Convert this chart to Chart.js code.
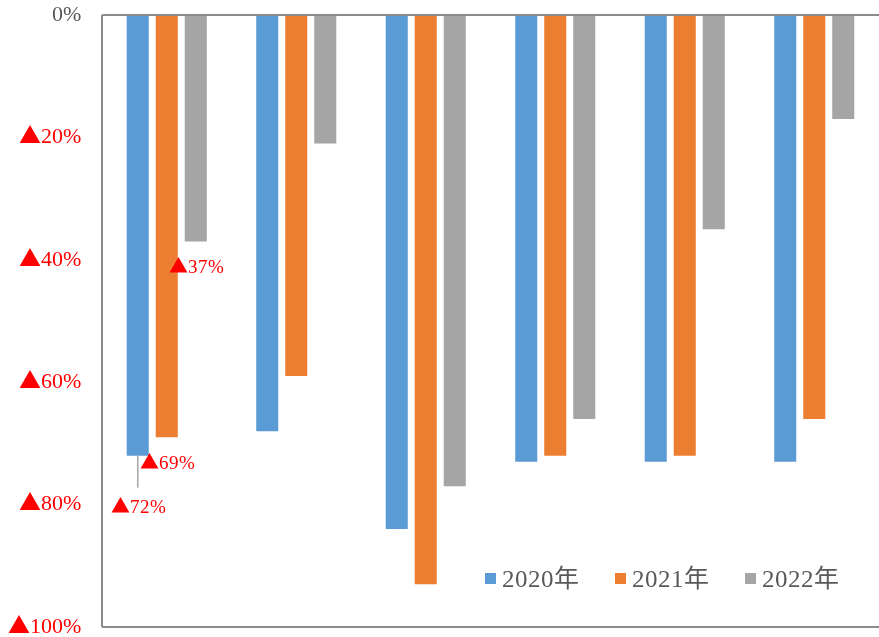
<!DOCTYPE html>
<html lang="ja">
<head>
  <meta charset="UTF-8">
  <title>減少率</title>
  <script src="https://cdn.jsdelivr.net/npm/chart.js"></script>
  <style>
    /* serif digits, full-width triangle from the CJK face */
    @font-face { font-family: 'MixSerif'; src: local('Noto Sans CJK JP'), local('NotoSansCJKjp-Regular'); unicode-range: U+25B2, U+5E74; }
    @font-face { font-family: 'MixSerif'; src: local('Liberation Serif'), local('LiberationSerif'); unicode-range: U+0000-00FF; }
    html, body { margin: 0; padding: 0; background: #fff; }
    #wrap { width: 879px; height: 637px; }
  </style>
</head>
<body>
  <div id="wrap"><canvas id="myChart"></canvas></div>

  <script>
    const categories = ['1', '2', '3', '4', '5', '6'];
    const seriesNames = ['2020年', '2021年', '2022年'];
    const values2020 = [-72, -68, -84, -73, -73, -73];
    const values2021 = [-69, -59, -93, -72, -72, -66];
    const values2022 = [-37, -21, -77, -66, -35, -17];
    const tickValues = [0, -20, -40, -60, -80, -100];
    const colors = ['#5B9BD5', '#ED7D31', '#A5A5A5'];

    const serif = "MixSerif, 'Liberation Serif', 'Noto Sans CJK JP', serif";

    function fmt(v) {
      return v === 0 ? '0%' : '▲' + Math.abs(v) + '%';
    }

    // labels only on the first group; blue one hangs lower with a leader line
    const labelSpots = [
      { ds: 0, i: 0, dy: 52, leader: 32 },
      { ds: 1, i: 0, dy: 27 },
      { ds: 2, i: 0, dy: 27 }
    ];

    const frame = {
      id: 'frame',
      afterDatasetsDraw(chart) {
        const { ctx, chartArea: a, scales } = chart;
        const y0 = scales.y.getPixelForValue(0);
        ctx.save();
        ctx.strokeStyle = '#8C8C8C';
        ctx.lineWidth = 2;
        ctx.beginPath();
        ctx.moveTo(a.left, y0); ctx.lineTo(a.right, y0);
        ctx.moveTo(a.left, a.top); ctx.lineTo(a.left, a.bottom);
        ctx.moveTo(a.left, a.bottom); ctx.lineTo(a.right, a.bottom);
        ctx.stroke();

        // data labels
        ctx.font = '19px ' + serif;
        ctx.textAlign = 'center';
        ctx.textBaseline = 'middle';
        labelSpots.forEach(s => {
          const bar = chart.getDatasetMeta(s.ds).data[s.i];
          const v = chart.data.datasets[s.ds].data[s.i];
          if (s.leader) {
            ctx.strokeStyle = '#A6A6A6';
            ctx.lineWidth = 1.5;
            ctx.beginPath();
            ctx.moveTo(bar.x, bar.y);
            ctx.lineTo(bar.x, bar.y + s.leader);
            ctx.stroke();
          }
          ctx.fillStyle = '#FF0000';
          ctx.fillText(fmt(v), bar.x + 1, bar.y + s.dy);
        });

        // legend inside the plot, lower right
        ctx.font = '25px ' + serif;
        ctx.textAlign = 'left';
        let x = 485;
        const ly = 579;
        chart.data.datasets.forEach(d => {
          ctx.fillStyle = d.backgroundColor;
          ctx.fillRect(x, ly - 6, 11, 11);
          ctx.fillStyle = '#595959';
          ctx.fillText(d.label, x + 17, ly + 1);
          x += 130;
        });
        ctx.restore();
      }
    };

    function draw() {
      new Chart(document.getElementById('myChart'), {
        type: 'bar',
        data: {
          labels: categories,
          datasets: [
            { label: seriesNames[0], data: values2020, backgroundColor: colors[0] },
            { label: seriesNames[1], data: values2021, backgroundColor: colors[1] },
            { label: seriesNames[2], data: values2022, backgroundColor: colors[2] }
          ]
        },
        options: {
          responsive: true,
          maintainAspectRatio: false,
          animation: false,
          layout: { padding: { top: 15, bottom: 10, left: 0, right: -3 } },
          datasets: {
            bar: { categoryPercentage: 0.672, barPercentage: 0.76 }
          },
          plugins: {
            legend: { display: false },
            tooltip: { enabled: false }
          },
          scales: {
            x: { display: false },
            y: {
              min: -100,
              max: 0,
              grid: { display: false, drawTicks: false },
              border: { display: false },
              afterBuildTicks(scale) {
                scale.ticks = tickValues.map(v => ({ value: v }));
              },
              afterFit(scale) {
                scale.width = 102;
                scale.paddingTop = 0;
                scale.paddingBottom = 0;
              },
              ticks: {
                padding: 21,
                font: { family: serif, size: 22 },
                color: c => (c.tick && c.tick.value === 0 ? '#595959' : '#FF0000'),
                callback: v => fmt(v)
              }
            }
          }
        },
        plugins: [frame]
      });
    }

    Promise.all([
      document.fonts.load('22px MixSerif', '▲0%'),
      document.fonts.load('25px MixSerif', '2020年')
    ]).then(draw, draw);
  </script>
</body>
</html>
